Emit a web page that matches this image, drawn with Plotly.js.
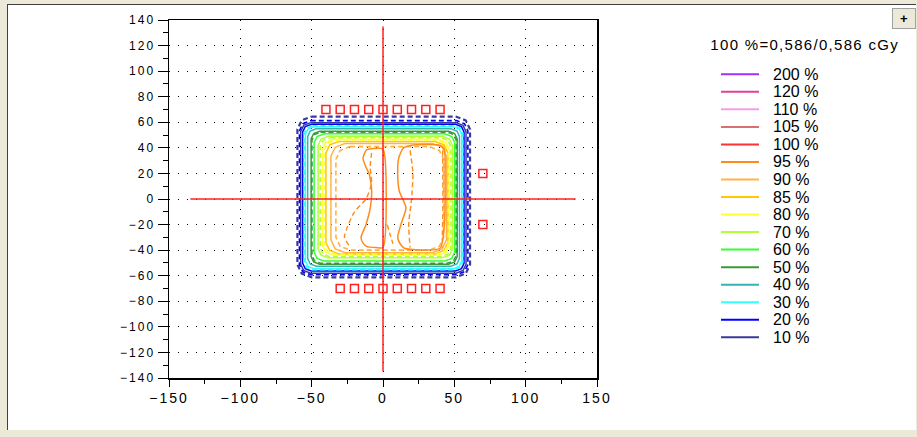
<!DOCTYPE html>
<html><head><meta charset="utf-8">
<script src="https://cdn.plot.ly/plotly-3.0.1.min.js"></script>
<style>
html,body{margin:0;padding:0;background:#ECE9D8;width:917px;height:437px;overflow:hidden;}
#frame{position:absolute;left:7px;top:4px;width:908px;height:425px;border-left:1px solid #404040;border-top:1px solid #404040;background:#fff;}
#plot{width:908px;height:425px;}
.xtick text,.ytick text{letter-spacing:2px;}
g.annotation[data-index="0"] text{letter-spacing:1.3px;}
</style></head>
<body>
<div id="frame"><div id="plot"></div></div>
<script>
// Isodose levels and their colours (legend)
const levels = ['200 %','120 %','110 %','105 %','100 %','95 %','90 %','85 %','80 %','70 %','60 %','50 %','40 %','30 %','20 %','10 %'];
const levelColors = ['#9B30FF','#E0409F','#F0A0E8','#D87070','#FF3333','#FF8C1A','#FFB347','#FFC800','#FFFF33','#B3FF33','#33FF33','#3A9A3A','#33B3B3','#33FFFF','#0000FF','#3A3A9A'];
const normText = '100 %=0,586/0,586 cGy';

// Solid isodose lines: edges (mm)
const solidLevel  = ['10 %','20 %','30 %','40 %','50 %','60 %','70 %','80 %','85 %','90 %'];
const solidLeft   = [-57.7,-56.3,-54.4,-52.8,-50.4,-48.3,-45.5,-42.5,-40,-36.5];
const solidRight  = [58.2,56.8,55.2,53.6,52,50.3,48.7,46.5,45.5,44.5];
const solidTop    = [59.7,58.4,56.5,55,53,51,49,46.7,45,43.5];
const solidBottom = [-58,-56.3,-54.5,-52.6,-51,-48.5,-46,-44,-43,-42];
const solidCorner = [7,6,6,6,6,7,7,8,9,10];

// Dashed isodose lines
const dashLevel  = ['10 %','20 %','30 %','50 %','70 %','80 %','90 %'];
const dashLeft   = [-60,-58.6,-55.3,-49.8,-44,-41.3,-33];
const dashRight  = [61,59.5,55.9,51.3,47.6,45.8,42.5];
const dashTop    = [64.5,61.3,57.2,52.3,48,46,41];
const dashBottom = [-61.3,-59.3,-55.3,-50.2,-45.3,-43.2,-40];
const dashCorner = [10,8,6,6,7,8,10];

// 95 % solid islands
const left95x  = [0,-6,-11.5,-14,-12,-9.5,-7.9,-8.9,-11.9,-15.4,-14,-11.5,-5,0,0];
const left95y  = [39,39.5,38.5,32,25,19,6,-7,-20,-30,-34.5,-37,-38,-38,39];
const right95x = [14,20,40,43,43.5,43,40,15,12,10.3,12.6,16.1,11.4,10.3,11,14];
const right95y = [39.5,42,42,39,20,-20,-38.5,-38.5,-35,-30,-19.8,-6.8,6.3,19.3,32,39.5];
// 95 % dashed pieces
const d95ax = [-8,-9,-8,-12,-20,-25,-27,-24];
const d95ay = [36,25,12,0,-10,-22,-30,-36];
const d95bx = [3,5,7];
const d95by = [-20,-28,-35];
const d95cx = [19,21,20,18,19];
const d95cy = [38,20,0,-20,-38];
const d95dx = [41.8,42,41.5];
const d95dy = [38,0,-38];

// Crosshair and detector markers
const crossHx = [-135,135], crossHy = [0,0];
const crossVx = [0,0],      crossVy = [135,-135];
const topDetX = [-40,-30,-20,-10,0,10,20,30,40];
const topDetY = [70,70,70,70,70,70,70,70,70];
const botDetX = [-30,-20,-10,0,10,20,30,40];
const botDetY = [-70,-70,-70,-70,-70,-70,-70,-70];
const sideDetX = [70,70];
const sideDetY = [20,-20];

const colorOf = lv => levelColors[levels.indexOf(lv)];
function roundRect(L,R,T,B,c){
  const k=0.3*c;
  return {x:[L+c,R-c,R-k,R,R,R-k,R-c,L+c,L+k,L,L,L+k,L+c],
          y:[T,T,T-k,T-c,B+c,B+k,B,B,B+k,B+c,T-c,T-k,T]};
}
const traces = [];
solidLevel.forEach((lv,i)=>{
  const p = roundRect(solidLeft[i],solidRight[i],solidTop[i],solidBottom[i],solidCorner[i]);
  traces.push({type:'scatter',mode:'lines',x:p.x,y:p.y,line:{color:colorOf(lv),width:1.5},hoverinfo:'skip',showlegend:false});
});
dashLevel.forEach((lv,i)=>{
  const p = roundRect(dashLeft[i],dashRight[i],dashTop[i],dashBottom[i],dashCorner[i]);
  traces.push({type:'scatter',mode:'lines',x:p.x,y:p.y,line:{color:colorOf(lv),width:lv==='10 %'?2.2:1.6,dash:'5px,3px'},hoverinfo:'skip',showlegend:false});
});
[[left95x,left95y],[right95x,right95y]].forEach(([x,y])=>{
  traces.push({type:'scatter',mode:'lines',x,y,line:{color:colorOf('95 %'),width:1.5,shape:'spline',smoothing:0.6},hoverinfo:'skip',showlegend:false});
});
[[d95ax,d95ay],[d95bx,d95by],[d95cx,d95cy],[d95dx,d95dy]].forEach(([x,y])=>{
  traces.push({type:'scatter',mode:'lines',x,y,line:{color:colorOf('95 %'),width:1.4,dash:'5px,3px',shape:'spline',smoothing:0.6},hoverinfo:'skip',showlegend:false});
});
traces.push({type:'scatter',mode:'lines',x:crossHx,y:crossHy,line:{color:'#FF2020',width:1.5},hoverinfo:'skip',showlegend:false});
traces.push({type:'scatter',mode:'lines',x:crossVx,y:crossVy,line:{color:'#FF2020',width:1.5},hoverinfo:'skip',showlegend:false});
[[topDetX,topDetY],[botDetX,botDetY],[sideDetX,sideDetY]].forEach(([x,y])=>{
  traces.push({type:'scatter',mode:'markers',x,y,marker:{symbol:'square-open',size:8,color:'#FF2020',line:{width:1.5,color:'#FF2020'}},hoverinfo:'skip',showlegend:false});
});

// page pixel -> paper coordinate helpers (plot box 169..597 x 19.7..377.7)
const px = v => (v-169)/428;
const py = v => (377.7-v)/358;

const annotations = [{xref:'paper',yref:'paper',x:px(805),y:py(44),xanchor:'center',yanchor:'middle',text:normText,showarrow:false,font:{size:15,color:'#000'}}];
const shapes = [];
levels.forEach((lv,i)=>{
  const yy = 74 + 17.53*i;
  shapes.push({type:'line',xref:'paper',yref:'paper',x0:px(721),x1:px(759),y0:py(yy),y1:py(yy),line:{color:levelColors[i],width:2}});
  annotations.push({xref:'paper',yref:'paper',x:px(771),y:py(yy),xanchor:'left',yanchor:'middle',text:lv,showarrow:false,font:{size:16,color:'#000'}});
});
annotations.push({xref:'paper',yref:'paper',x:px(903.5),y:py(18),xanchor:'center',yanchor:'middle',text:'<b>+</b>',showarrow:false,font:{size:13,color:'#000'},bgcolor:'#ECE9D8',bordercolor:'#A0A0A0',borderwidth:1,width:20,height:17});

const layout = {
  width:908,height:425,
  margin:{l:161,r:319,t:15,b:52},
  paper_bgcolor:'#fff',plot_bgcolor:'#fff',
  font:{family:'Liberation Sans, Arial, sans-serif',color:'#000'},
  showlegend:false,
  xaxis:{range:[-150,150],tickmode:'linear',tick0:-150,dtick:50,ticks:'outside',ticklen:7,tickcolor:'#000',tickwidth:1,
    showline:true,linecolor:'#000',linewidth:1.5,mirror:true,zeroline:false,
    showgrid:true,gridcolor:'#000',gridwidth:1,griddash:'1px,8px',
    minor:{ticks:'outside',ticklen:4,dtick:25,tickcolor:'#000',showgrid:false},
    tickfont:{size:14,color:'#000'}},
  yaxis:{range:[-140,140],tickmode:'linear',tick0:-140,dtick:20,ticks:'outside',ticklen:10,tickcolor:'#000',tickwidth:1,
    showline:true,linecolor:'#000',linewidth:1.5,mirror:true,zeroline:false,
    showgrid:true,gridcolor:'#000',gridwidth:1,griddash:'1px,8px',
    minor:{ticks:'outside',ticklen:5,dtick:10,tickcolor:'#000',showgrid:false},
    tickfont:{size:12,color:'#000'}},
  annotations, shapes
};
Plotly.newPlot('plot',traces,layout,{displayModeBar:false,staticPlot:true});
</script>
</body></html>
